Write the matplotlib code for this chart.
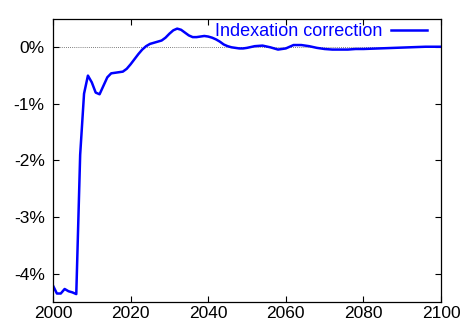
import matplotlib
matplotlib.use("Agg")
import matplotlib.pyplot as plt
from matplotlib.ticker import FuncFormatter

plt.rcParams['font.family'] = ['Liberation Sans', 'DejaVu Sans']

years = [2000, 2001, 2002, 2003, 2004, 2005, 2006, 2007, 2008, 2009,
         2010, 2011, 2012, 2013, 2014, 2015, 2016, 2017, 2018, 2019,
         2020, 2021, 2022, 2023, 2024, 2025, 2026, 2027, 2028, 2029,
         2030, 2031, 2032, 2033, 2034, 2035, 2036, 2037, 2038, 2039,
         2040, 2041, 2042, 2043, 2044, 2045, 2046, 2047, 2048, 2049,
         2050, 2052, 2054, 2056, 2058, 2060, 2062, 2064, 2066, 2068,
         2070, 2072, 2074, 2076, 2078, 2080, 2084, 2088, 2092, 2096, 2100]
correction = [-4.21, -4.35, -4.35, -4.27, -4.31, -4.33, -4.36, -1.90, -0.82, -0.50,
              -0.62, -0.80, -0.83, -0.68, -0.53, -0.46, -0.45, -0.44, -0.43, -0.38,
              -0.30, -0.21, -0.12, -0.04, 0.02, 0.06, 0.08, 0.10, 0.12, 0.17,
              0.24, 0.30, 0.33, 0.31, 0.26, 0.21, 0.18, 0.18, 0.19, 0.20,
              0.19, 0.17, 0.14, 0.10, 0.05, 0.02, 0.00, -0.01, -0.02, -0.02,
              -0.01, 0.02, 0.03, 0.00, -0.04, -0.02, 0.04, 0.04, 0.02, -0.01,
              -0.03, -0.04, -0.04, -0.04, -0.03, -0.03, -0.02, -0.01, 0.00, 0.01, 0.01]

x_ticks = [2000, 2020, 2040, 2060, 2080, 2100]
y_ticks = [-4, -3, -2, -1, 0]
series_label = "Indexation correction"

fig = plt.figure(figsize=(4.62, 3.24), dpi=100)
ax = fig.add_axes([53/462, 22/324, 388/462, 283/324])

ax.axhline(0, color='#555555', linestyle=(0, (1, 1.5)), linewidth=0.6, zorder=1)
ax.plot(years, correction, color='#0000ff', linewidth=1.8, label=series_label, zorder=2)

ax.set_xlim(2000, 2100)
ax.set_ylim(-4.5, 0.5)
ax.set_xticks(x_ticks)
ax.set_yticks(y_ticks)
ax.yaxis.set_major_formatter(FuncFormatter(lambda v, p: f"{v:.0f}%"))

ax.tick_params(direction='in', length=4, width=0.8, top=True, right=True,
               labelsize=12.5, colors='black')
ax.tick_params(axis='y', pad=6)
ax.tick_params(axis='x', pad=3)
for s in ax.spines.values():
    s.set_linewidth(0.9)

leg = ax.legend(loc='upper right', bbox_to_anchor=(0.964, 0.985), frameon=False,
                markerfirst=False, labelcolor='#0000ff', fontsize=13,
                handlelength=2.0, handletextpad=0.45, borderaxespad=0.0,
                borderpad=0.0)

fig.savefig("out.png", dpi=100)
